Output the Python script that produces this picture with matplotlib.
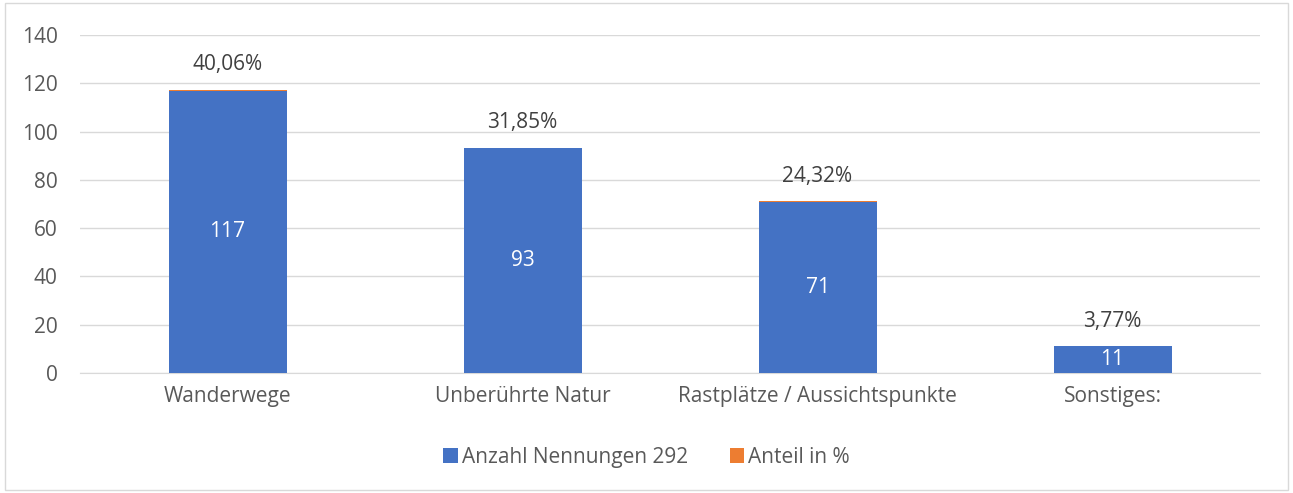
import numpy as np
import matplotlib.pyplot as plt

# --------
# The data
categories = ["Wanderwege", "Unberührte Natur", "Rastplätze / Aussichtspunkte", "Sonstiges:"]
anzahl = [117, 93, 71, 11]
anteil = [0.4006, 0.3185, 0.2432, 0.0377]
anteil_labels = ["40,06%", "31,85%", "24,32%", "3,77%"]

blue = "#4472C4"
orange = "#ED7D31"
txt = "#595959"
fs = 15

plt.rcParams["font.family"] = ["Open Sans", "DejaVu Sans"]

fig = plt.figure(figsize=(12.93, 4.93), dpi=100)
ax = fig.add_axes([0.0619, 0.2434, 0.9126, 0.6856])

x = np.arange(len(categories))
ax.bar(x, anzahl, width=0.4, color=blue, label="Anzahl Nennungen 292", zorder=3)
ax.bar(x, anteil, width=0.4, bottom=anzahl, color=orange, label="Anteil in %", zorder=3)

for i in range(len(x)):
    ax.text(x[i], anzahl[i] / 2.0, str(anzahl[i]), ha="center", va="center",
            color="white", fontsize=fs, zorder=4)
    ax.annotate(anteil_labels[i], (x[i], anzahl[i] + anteil[i]), xytext=(0, 18),
                textcoords="offset points", ha="center", va="center",
                color="#404040", fontsize=fs)

ax.set_xlim(-0.5, 3.5)
ax.set_ylim(0, 140)
ax.set_yticks(np.arange(0, 141, 20))
ax.set_xticks(x)
ax.set_xticklabels(categories)
ax.yaxis.grid(True, color="#D9D9D9", linewidth=1, zorder=0)
for s in ax.spines.values():
    s.set_visible(False)
ax.spines["bottom"].set_visible(True)
ax.spines["bottom"].set_color("#D9D9D9")
ax.tick_params(axis="both", length=0, labelsize=fs, colors=txt, pad=9)
ax.tick_params(axis="y", pad=16)

leg = fig.legend(loc="center", bbox_to_anchor=(0.5, 0.073), ncol=2, frameon=False,
                 fontsize=fs, handlelength=0.7, handleheight=0.7, handletextpad=0.2,
                 columnspacing=2.0)
for t in leg.get_texts():
    t.set_color(txt)

fig.patches.append(plt.Rectangle((0.004, 0.006), 0.992, 0.988, transform=fig.transFigure,
                                 fill=False, edgecolor="#D9D9D9", linewidth=1))

fig.savefig("out.png", dpi=100)
